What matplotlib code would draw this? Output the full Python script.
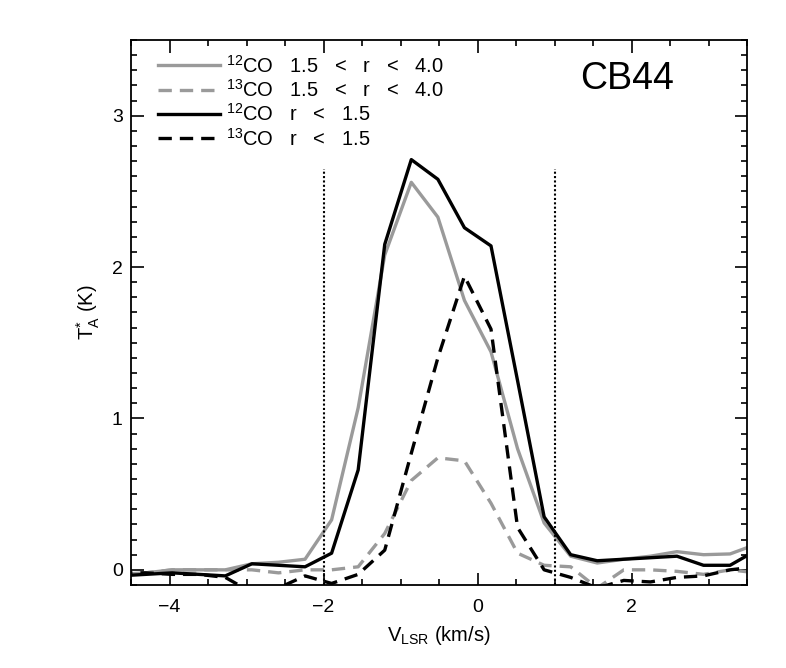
import matplotlib
matplotlib.use('Agg')
import matplotlib.pyplot as plt
from matplotlib.ticker import MultipleLocator

plt.rcParams['font.family'] = ['Liberation Sans', 'DejaVu Sans']
plt.rcParams['mathtext.default'] = 'regular'

# channel velocities (km/s)
vlsr = [-4.655, -4.31, -3.965, -3.62, -3.275, -2.93, -2.585, -2.24, -1.895, -1.55,
        -1.205, -0.86, -0.515, -0.17, 0.175, 0.52, 0.865, 1.21, 1.555, 1.9,
        2.245, 2.59, 2.935, 3.28, 3.625]

# 12CO, 1.5 < r < 4.0
co12_outer = [-0.03, -0.02, 0.0, 0.0, 0.0, 0.04, 0.05, 0.07, 0.33, 1.07,
              2.08, 2.56, 2.33, 1.78, 1.44, 0.80, 0.31, 0.09, 0.045, 0.07,
              0.09, 0.12, 0.10, 0.105, 0.17]
# 13CO, 1.5 < r < 4.0
co13_outer = [-0.03, -0.02, 0.0, 0.0, 0.0, 0.0, -0.02, 0.0, 0.0, 0.02,
              0.24, 0.59, 0.74, 0.72, 0.44, 0.11, 0.03, 0.02, -0.12, 0.0,
              0.0, -0.01, -0.03, 0.0, -0.02]
# 12CO, r < 1.5
co12_inner = [-0.04, -0.03, -0.02, -0.03, -0.04, 0.04, 0.03, 0.02, 0.11, 0.66,
              2.15, 2.71, 2.58, 2.26, 2.14, 1.25, 0.35, 0.10, 0.06, 0.07,
              0.08, 0.09, 0.03, 0.03, 0.13]
# 13CO, r < 1.5
co13_inner = [-0.02, -0.02, -0.03, -0.03, -0.05, -0.15, -0.12, -0.04, -0.09, -0.03,
              0.13, 0.77, 1.40, 1.94, 1.59, 0.28, 0.0, -0.05, -0.12, -0.07,
              -0.08, -0.05, -0.04, 0.0, 0.02]

vel_limits = [-2.0, 1.0]

gray = '#9a9a9a'
lw = 2.4
dash = (0, (4, 2.4))
sp = '   '

fig = plt.figure(figsize=(7.86, 6.68), dpi=100)
ax = fig.add_axes([0.1667, 0.1243, 0.7837, 0.8158])

ax.plot(vlsr, co12_outer, color=gray, lw=lw, label=r'$^{12}$CO' + sp + '1.5' + sp + '<' + sp + 'r' + sp + '<' + sp + '4.0')
ax.plot(vlsr, co13_outer, color=gray, lw=lw, linestyle=dash, label=r'$^{13}$CO' + sp + '1.5' + sp + '<' + sp + 'r' + sp + '<' + sp + '4.0')
ax.plot(vlsr, co12_inner, color='black', lw=lw, label=r'$^{12}$CO' + sp + 'r' + sp + '<' + sp + '1.5')
ax.plot(vlsr, co13_inner, color='black', lw=lw, linestyle=dash, label=r'$^{13}$CO' + sp + 'r' + sp + '<' + sp + '1.5')

for v in vel_limits:
    ax.plot([v, v], [-0.1, 2.65], color='black', lw=1.5, linestyle=(0, (1, 1.1)))

ax.set_xlim(-4.5, 3.5)
ax.set_ylim(-0.1, 3.5)
ax.xaxis.set_major_locator(MultipleLocator(2))
ax.xaxis.set_minor_locator(MultipleLocator(0.5))
ax.yaxis.set_major_locator(MultipleLocator(1))
ax.yaxis.set_minor_locator(MultipleLocator(0.1))
ax.tick_params(which='both', direction='in', top=True, right=True, width=1.2, labelsize=14)
ax.tick_params(which='major', length=9)
ax.tick_params(which='minor', length=4.5)
ax.tick_params(axis='x', which='major', pad=10)
ax.tick_params(axis='y', which='major', pad=6)
for s in ax.spines.values():
    s.set_linewidth(1.3)

ax.set_xlabel(r'V$_{LSR}$ (km/s)', fontsize=14.5, labelpad=6)
ax.set_ylabel(r'T$_A^{*}$ (K)', fontsize=14.5, labelpad=7)

ax.text(0.805, 0.929, 'CB44', transform=ax.transAxes, fontsize=27, ha='center', va='center')

ax.legend(loc='upper left', frameon=False, fontsize=14.5, handlelength=3.1,
          handletextpad=0.3, labelspacing=0.12, borderaxespad=0.0,
          bbox_to_anchor=(0.03, 0.988))

fig.savefig('out.png', dpi=100)
